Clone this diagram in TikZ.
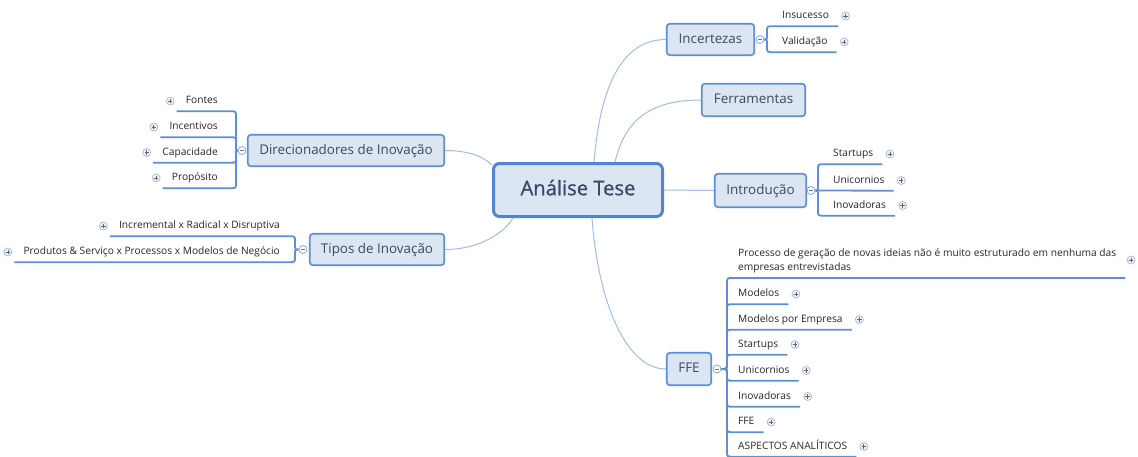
\documentclass[tikz,border=0pt]{standalone}
\usepackage{fontspec}
\setmainfont{Open Sans}
\newfontfamily\rootface[FakeBold=1]{Open Sans}
\usetikzlibrary{calc,backgrounds}

\definecolor{boxfill}{HTML}{DCE6F2}
\definecolor{boxline}{HTML}{5C8FD3}
\definecolor{rootline}{HTML}{4F86CF}
\definecolor{linkline}{HTML}{9FBDE6}
\definecolor{stemline}{HTML}{5B8FD6}
\definecolor{boxtext}{HTML}{3B4A5E}
\definecolor{roottext}{HTML}{3A4B68}
\definecolor{subtext}{HTML}{262626}
\definecolor{iconring}{HTML}{A8B8CC}
\definecolor{iconfill}{HTML}{EEF2F7}
\definecolor{iconmark}{HTML}{5A6472}
\definecolor{foldring}{HTML}{86ACDD}

\tikzset{
  root/.style={draw=rootline, line width=3pt, fill=boxfill, rounded corners=6pt,
    text=roottext, font=\rootface\fontsize{20.2pt}{24pt}\selectfont, inner sep=0pt,
    minimum width=169pt, minimum height=53pt, text height=14.5pt, text depth=4pt},
  topic/.style={draw=boxline, line width=1.7pt, fill=boxfill, rounded corners=3pt,
    text=boxtext, font=\fontsize{13.4pt}{16pt}\selectfont, inner sep=0pt,
    text height=9.8pt, text depth=2.8pt},
  leaf/.style={inner xsep=9pt, inner ysep=0pt, minimum height=20pt, text=subtext,
    font=\fontsize{10.2pt}{14pt}\selectfont, text height=7.4pt, text depth=2.2pt},
  note/.style={inner xsep=9pt, inner ysep=4.5pt, align=left, text=subtext,
    font=\fontsize{10.2pt}{14pt}\selectfont},
  link/.style={draw=linkline, line width=1pt},
  stem/.style={draw=stemline, line width=1.8pt},
  fold/.style={circle, draw=foldring, line width=0.8pt, fill=white, minimum size=8pt,
    inner sep=0pt, path picture={
      \draw[foldring!70!black, line width=0.7pt]
        ([xshift=-2pt]path picture bounding box.center) --
        ([xshift=2pt]path picture bounding box.center);}},
  expand/.style={circle, draw=iconring, line width=0.7pt, fill=iconfill, minimum size=8pt,
    inner sep=0pt, path picture={
      \draw[iconmark, line width=0.7pt]
        ([xshift=-2.2pt]path picture bounding box.center) --
        ([xshift=2.2pt]path picture bounding box.center)
        ([yshift=-2.2pt]path picture bounding box.center) --
        ([yshift=2.2pt]path picture bounding box.center);}}
}

% branch from a fold marker to a subtopic on the right / left;
% #1 fold node, #2 subtopic node, #3 trunk coordinate, #4 -1 upwards, 1 downwards
\newcommand\mmright[4]{%
  \draw[stem] (#1.east) .. controls (#1.east -| #3) .. ($(#1.east -| #3)+(0,#4*5.5)$)
    -- ($(#2.south west -| #3)+(0,-#4*5.5)$) .. controls (#2.south west -| #3)
    .. ($(#2.south west -| #3)+(6,0)$) -- (#2.south east);}
\newcommand\mmleft[4]{%
  \draw[stem] (#1.west) .. controls (#1.west -| #3) .. ($(#1.west -| #3)+(0,#4*5.5)$)
    -- ($(#2.south east -| #3)+(0,-#4*5.5)$) .. controls (#2.south east -| #3)
    .. ($(#2.south east -| #3)+(-6,0)$) -- (#2.south west);}

\begin{document}
\begin{tikzpicture}[x=1pt, y=-1pt]
\useasboundingbox (0,0) rectangle (1138,456);

% central topic and main topics
\node[root] (root) at (578,190) {Análise Tese};
\node[topic, minimum width=87.4pt,  minimum height=31.4pt] (unc)     at (710.5,39.5) {Incertezas};
\node[topic, minimum width=103.4pt, minimum height=32.4pt] (tools)   at (753.5,100)  {Ferramentas};
\node[topic, minimum width=91.4pt,  minimum height=33.4pt] (intro)   at (760.5,190.5) {Introdução};
\node[topic, minimum width=44.4pt,  minimum height=32.4pt] (ffe)     at (689,369)    {FFE};
\node[topic, minimum width=196.4pt, minimum height=31.4pt] (drivers) at (346,150.5)  {Direcionadores de Inovação};
\node[topic, minimum width=134.4pt, minimum height=31.4pt] (kinds)   at (377,249.5)  {Tipos de Inovação};

% fold markers
\node[fold] (uncF)     at (760,39.5) {};
\node[fold] (introF)   at (811,190.5) {};
\node[fold] (ffeF)     at (717,369) {};
\node[fold] (driversF) at (242,150.5) {};
\node[fold] (kindsF)   at (303,249.5) {};

% trunk positions of the subtopic brackets
\coordinate (uncT)     at (767,0);
\coordinate (introT)   at (818,0);
\coordinate (ffeT)     at (727,0);
\coordinate (driversT) at (236,0);
\coordinate (kindsT)   at (295,0);

% subtopics
\node[leaf, anchor=west] (uncA) at (773,16) {Insucesso};
\node[leaf, anchor=west] (uncB) at (773,42) {Validação};

\node[leaf, anchor=west] (introA) at (824,154)   {Startups};
\node[leaf, anchor=west] (introB) at (824,180.5) {Unicornios};
\node[leaf, anchor=west] (introC) at (824,205.5) {Inovadoras};

\node[note, anchor=south west] (ffeN) at (729,278)
  {Processo de geração de novas ideias não é muito estruturado em nenhuma das\\empresas entrevistadas};
\node[leaf, anchor=west] (ffeA) at (729,294)   {Modelos};
\node[leaf, anchor=west] (ffeB) at (729,319.5) {Modelos por Empresa};
\node[leaf, anchor=west] (ffeC) at (729,344.5) {Startups};
\node[leaf, anchor=west] (ffeD) at (729,370.5) {Unicornios};
\node[leaf, anchor=west] (ffeE) at (729,396.5) {Inovadoras};
\node[leaf, anchor=west] (ffeG) at (729,422)   {FFE};
\node[leaf, anchor=west] (ffeH) at (729,446.5) {ASPECTOS ANALÍTICOS};

\node[leaf, anchor=east] (drvA) at (227,101)   {Fontes};
\node[leaf, anchor=east] (drvB) at (227,127)   {Incentivos};
\node[leaf, anchor=east] (drvC) at (227,152.5) {Capacidade};
\node[leaf, anchor=east] (drvD) at (227,178)   {Propósito};

\node[leaf, anchor=east] (kndA) at (289,226) {Incremental x Radical x Disruptiva};
\node[leaf, anchor=east] (kndB) at (289,252) {Produtos \& Serviço x Processos x Modelos de Negócio};

% expand markers
\foreach \n in {uncA,uncB,introA,introB,introC,ffeA,ffeB,ffeC,ffeD,ffeE,ffeG,ffeH}
  \node[expand] (\n X) at ([xshift=7.5pt]\n.east) {};
\node[expand] (ffeNX) at (1131,260) {};
\foreach \n in {drvA,drvB,drvC,drvD,kndA,kndB}
  \node[expand] (\n X) at ([xshift=-6.5pt]\n.west) {};

\begin{scope}[on background layer]
  % connectors from the central topic
  \draw[link] ([xshift=16pt]root.north) .. controls (600,90) and (620,39.5) .. (unc.west);
  \draw[link] ([xshift=37pt]root.north) .. controls (625,120) and (650,100) .. (tools.west);
  \draw[link] (root.east) -- (intro.west);
  \draw[link] ([xshift=14pt]root.south) .. controls (598,300) and (625,369) .. (ffe.west);
  \draw[link] (drivers.east) .. controls (465,150.5) and (482,155) .. ([yshift=-3pt]root.north west);
  \draw[link] (kinds.east) .. controls (480,249.5) and (505,232) .. ([xshift=21pt]root.south west);

  % subtopic brackets
  \mmright{uncF}{uncA}{uncT}{-1}
  \mmright{uncF}{uncB}{uncT}{1}
  \mmright{introF}{introA}{introT}{-1}
  \draw[stem] (introF.east) -- (introB.south east);
  \mmright{introF}{introC}{introT}{1}
  \mmright{ffeF}{ffeN}{ffeT}{-1}
  \mmright{ffeF}{ffeA}{ffeT}{-1}
  \mmright{ffeF}{ffeB}{ffeT}{-1}
  \mmright{ffeF}{ffeC}{ffeT}{-1}
  \mmright{ffeF}{ffeD}{ffeT}{1}
  \mmright{ffeF}{ffeE}{ffeT}{1}
  \mmright{ffeF}{ffeG}{ffeT}{1}
  \mmright{ffeF}{ffeH}{ffeT}{1}
  \mmleft{driversF}{drvA}{driversT}{-1}
  \mmleft{driversF}{drvB}{driversT}{-1}
  \mmleft{driversF}{drvC}{driversT}{1}
  \mmleft{driversF}{drvD}{driversT}{1}
  \mmleft{kindsF}{kndA}{kindsT}{-1}
  \mmleft{kindsF}{kndB}{kindsT}{1}
\end{scope}
\end{tikzpicture}
\end{document}
